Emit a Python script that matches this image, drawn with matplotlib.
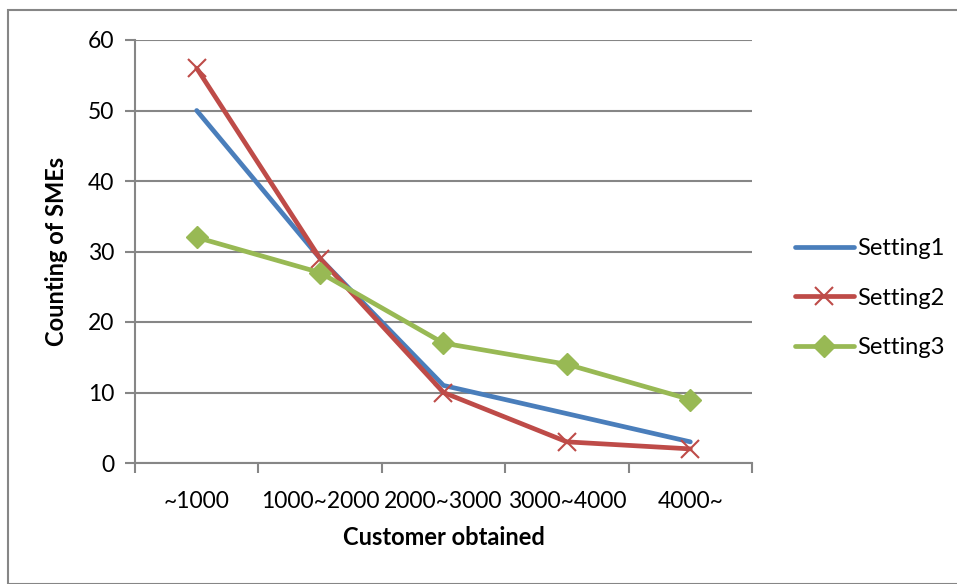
import matplotlib
matplotlib.use("Agg")
import matplotlib.pyplot as plt
from matplotlib.patches import Rectangle

# Daten
kategorier = ["~1000", "1000~2000", "2000~3000", "3000~4000", "4000~"]
setting1 = [50, 29, 11, 7, 3]
setting2 = [56, 29, 10, 3, 2]
setting3 = [32, 27, 17, 14, 9]
y_ticks = [0, 10, 20, 30, 40, 50, 60]

plt.rcParams["font.family"] = ["Lato", "DejaVu Sans"]

fig = plt.figure(figsize=(9.57, 5.84), dpi=100)
ax = fig.add_axes([135 / 957, 1 - 463 / 584, 617 / 957, 423 / 584])

# Rahmen um das ganze Diagramm
fig.patches.append(Rectangle((8 / 957, 0), 1, 1 - 10 / 584, transform=fig.transFigure,
                             fill=False, edgecolor="#868686", linewidth=1.5))

x = list(range(len(kategorier)))
ax.plot(x, setting1, color="#4A7EBB", linewidth=3.4, solid_capstyle="round",
        label="Setting1", zorder=3)
ax.plot(x, setting2, color="#BE4B48", linewidth=3.4, marker="x", markersize=13,
        markeredgewidth=1.5, solid_capstyle="round", label="Setting2", zorder=4)
ax.plot(x, setting3, color="#98B954", linewidth=3.4, marker="D", markersize=11,
        markeredgecolor="#98B954", solid_capstyle="round", label="Setting3", zorder=5)

ax.set_xlim(-0.5, 4.5)
ax.set_ylim(0, 60)
ax.set_yticks(y_ticks)
ax.set_xticks(x)
ax.set_xticklabels(kategorier)
ax.set_xticks([i - 0.5 for i in range(len(kategorier) + 1)], minor=True)
ax.tick_params(axis="x", which="major", length=0, pad=20, labelsize=16.5)
ax.tick_params(axis="x", which="minor", length=7, width=1.5, color="#868686")
ax.tick_params(axis="y", length=7, width=1.5, color="#868686", labelsize=16.5, pad=8)

ax.grid(axis="y", color="#868686", linewidth=1.5)
ax.set_axisbelow(True)
for s in ["top", "right"]:
    ax.spines[s].set_visible(False)
for s in ["left", "bottom"]:
    ax.spines[s].set_color("#868686")
    ax.spines[s].set_linewidth(1.5)

ax.set_xlabel("Customer obtained", fontsize=17, fontweight="bold", labelpad=10)
ax.set_ylabel("Counting of SMEs", fontsize=17, fontweight="bold", labelpad=14)

ax.legend(loc="center left", bbox_to_anchor=(1.035, 0.39), frameon=False,
          fontsize=17, handlelength=2.5, handletextpad=0.15, labelspacing=1.2)

fig.savefig("out.png", dpi=100)
